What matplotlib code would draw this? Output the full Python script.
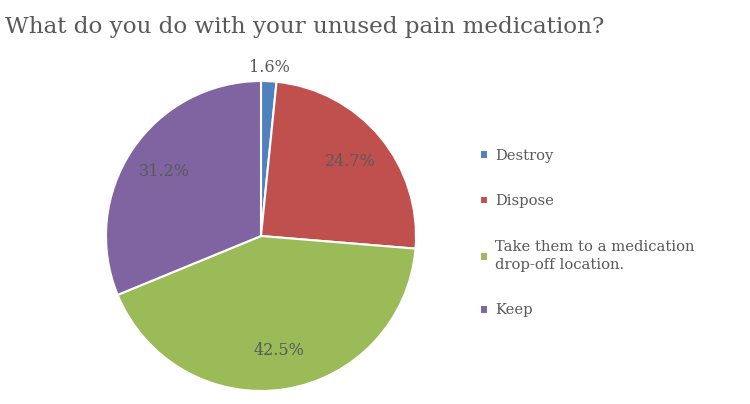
import numpy as np
import matplotlib
matplotlib.use('Agg')
from matplotlib import pyplot as plt

labels = ['Destroy', 'Dispose', 'Take them to a medication\ndrop-off location.', 'Keep']
values = [1.6, 24.7, 42.5, 31.2]
colors = ['#4F81BD', '#C0504D', '#9BBB59', '#8064A2']
title = 'What do you do with your unused pain medication?'

text_color = '#595959'
plt.rcParams['font.family'] = ['DejaVu Serif']

fig = plt.figure(figsize=(7.5, 4.04), dpi=100)
fig.text(0.007, 0.96, title, fontsize=16.6, color=text_color, va='top', ha='left')

# pie area in pixels: center (261, 236), radius 155
ax = fig.add_axes([106 / 750, 13 / 404, 310 / 750, 310 / 404])
wedges, texts, autotexts = ax.pie(values, colors=colors, startangle=90, counterclock=False,
                                  autopct='%.1f%%', pctdistance=0.75,
                                  wedgeprops=dict(edgecolor='white', linewidth=1.5),
                                  textprops=dict(color=text_color, fontsize=11.5))
ax.set_xlim(-1, 1)
ax.set_ylim(-1, 1)
ax.set_aspect('equal')

# small slice label goes outside
for w, t, v in zip(wedges, autotexts, values):
    if v < 5:
        ang = np.deg2rad((w.theta1 + w.theta2) / 2)
        t.set_position((1.09 * np.cos(ang), 1.09 * np.sin(ang)))

leg = fig.legend(wedges, labels, loc='upper left', bbox_to_anchor=(0.622, 0.665),
                 frameon=False, fontsize=10.6, labelcolor=text_color,
                 handlelength=0.55, handleheight=0.55, handletextpad=0.5,
                 labelspacing=2.15)
for t in leg.get_texts():
    t.set_linespacing(1.35)

fig.savefig('out.png', dpi=100)
